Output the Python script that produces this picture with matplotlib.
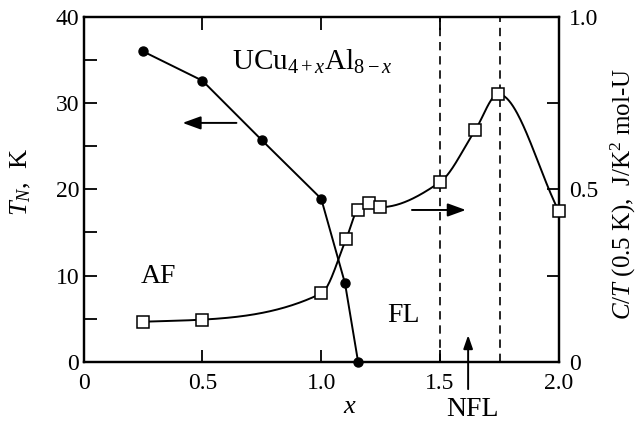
import numpy as np
import matplotlib
matplotlib.use("Agg")
import matplotlib.pyplot as plt

# Neel temperature (left axis)
x_tn = [0.25, 0.5, 0.75, 1.0, 1.1, 1.155]
tn = [36.0, 32.6, 25.7, 18.9, 9.1, 0.0]

# C/T at 0.5 K (right axis)
x_ct = [0.25, 0.5, 1.0, 1.105, 1.153, 1.2, 1.248, 1.5, 1.648, 1.745, 2.0]
ct = [0.116, 0.122, 0.198, 0.356, 0.44, 0.461, 0.448, 0.521, 0.672, 0.776, 0.436]

x_ticks = [0, 0.5, 1.0, 1.5, 2.0]
x_ticklabels = ['0', '0.5', '1.0', '1.5', '2.0']
nfl_bounds = [1.5, 1.75]


def pchip(xk, yk, xs):
    # monotone cubic through the points, used only to draw a smooth line
    xk = np.asarray(xk, float)
    yk = np.asarray(yk, float)
    h = np.diff(xk)
    d = np.diff(yk) / h
    m = np.zeros_like(yk)
    for i in range(1, len(xk) - 1):
        if d[i - 1] * d[i] > 0:
            w1 = 2 * h[i] + h[i - 1]
            w2 = h[i] + 2 * h[i - 1]
            m[i] = (w1 + w2) / (w1 / d[i - 1] + w2 / d[i])
    m[0] = d[0]
    m[-1] = d[-1]
    out = np.empty_like(xs)
    for j, xv in enumerate(xs):
        i = min(np.searchsorted(xk, xv) - 1, len(h) - 1)
        i = max(i, 0)
        t = (xv - xk[i]) / h[i]
        h00 = 2 * t**3 - 3 * t**2 + 1
        h10 = t**3 - 2 * t**2 + t
        h01 = -2 * t**3 + 3 * t**2
        h11 = t**3 - t**2
        out[j] = h00 * yk[i] + h10 * h[i] * m[i] + h01 * yk[i + 1] + h11 * h[i] * m[i + 1]
    return out


plt.rcParams['font.family'] = 'Liberation Serif'
plt.rcParams['mathtext.fontset'] = 'custom'
plt.rcParams['mathtext.rm'] = 'Liberation Serif'
plt.rcParams['mathtext.it'] = 'Liberation Serif:italic'

fig = plt.figure(figsize=(6.39, 4.30), dpi=100)
ax = fig.add_axes([0.1307, 0.1588, 0.744, 0.802])
ax2 = ax.twinx()

ax.plot(x_tn, tn, color='black', lw=1.4, marker='o', ms=6.5, zorder=3, clip_on=False)

xs = np.linspace(x_ct[0], x_ct[-1], 400)
ax2.plot(xs, pchip(x_ct, ct, xs), color='black', lw=1.4, zorder=2)
ax2.plot(x_ct, ct, ls='none', marker='s', ms=8.5, mfc='white', mec='black', mew=1.1,
         zorder=3, clip_on=False)

for xb in nfl_bounds:
    ax.axvline(xb, color='black', lw=1.2, ls=(0, (5, 3.5)))

ax.set_xlim(0, 2.0)
ax.set_ylim(0, 40)
ax2.set_ylim(0, 1.0)

ax.set_xticks(x_ticks)
ax.set_xticklabels(x_ticklabels)
ax.set_yticks([0, 10, 20, 30, 40])
ax.set_yticks([5, 15, 25, 35], minor=True)
ax2.set_yticks([0, 0.5, 1.0])
ax2.set_yticklabels(['0', '0.5', '1.0'])
ax2.set_yticks([0.25, 0.75], minor=True)

ax.tick_params(axis='x', which='major', direction='in', top=True, length=9, width=1.3,
               labelsize=17, pad=8)
ax.tick_params(axis='y', which='both', direction='in', right=False, length=9, width=1.3,
               labelsize=17, pad=3)
ax2.tick_params(axis='y', which='both', direction='in', length=9, width=1.3,
                labelsize=17, pad=7)

for a in (ax, ax2):
    for s in a.spines.values():
        s.set_linewidth(1.6)

ax.set_xlabel('$x$', fontsize=19)
ax.xaxis.set_label_coords(0.56, -0.1)
ax.set_ylabel('$T_N$,  K', fontsize=19)
ax.yaxis.set_label_coords(-0.106, 0.52)
ax2.set_ylabel('$C/T$ (0.5 K),  J/K$^2$ mol-U', fontsize=18, rotation=90)
ax2.yaxis.set_label_coords(1.105, 0.485)

ax.text(0.625, 33.9, 'UCu$_{4+x}$Al$_{8-x}$', fontsize=21, va='baseline')
ax.text(0.316, 9.9, 'AF', fontsize=20, ha='center', va='center')
ax.text(1.345, 5.4, 'FL', fontsize=20, ha='center', va='center')
ax.text(1.638, -5.5, 'NFL', fontsize=20, ha='center', va='center')

ax.annotate('', xy=(0.405, 27.7), xytext=(0.655, 27.7),
            arrowprops=dict(arrowstyle='-|>,head_length=1.1,head_width=0.4', color='black', lw=1.4))
ax2.annotate('', xy=(1.62, 0.44), xytext=(1.37, 0.44),
             arrowprops=dict(arrowstyle='-|>,head_length=1.1,head_width=0.4', color='black', lw=1.4))
ax.annotate('', xy=(1.618, 3.4), xytext=(1.618, -3.5), annotation_clip=False,
            arrowprops=dict(arrowstyle='-|>,head_length=0.8,head_width=0.28', color='black', lw=1.4))

fig.savefig('out.png', dpi=100)
